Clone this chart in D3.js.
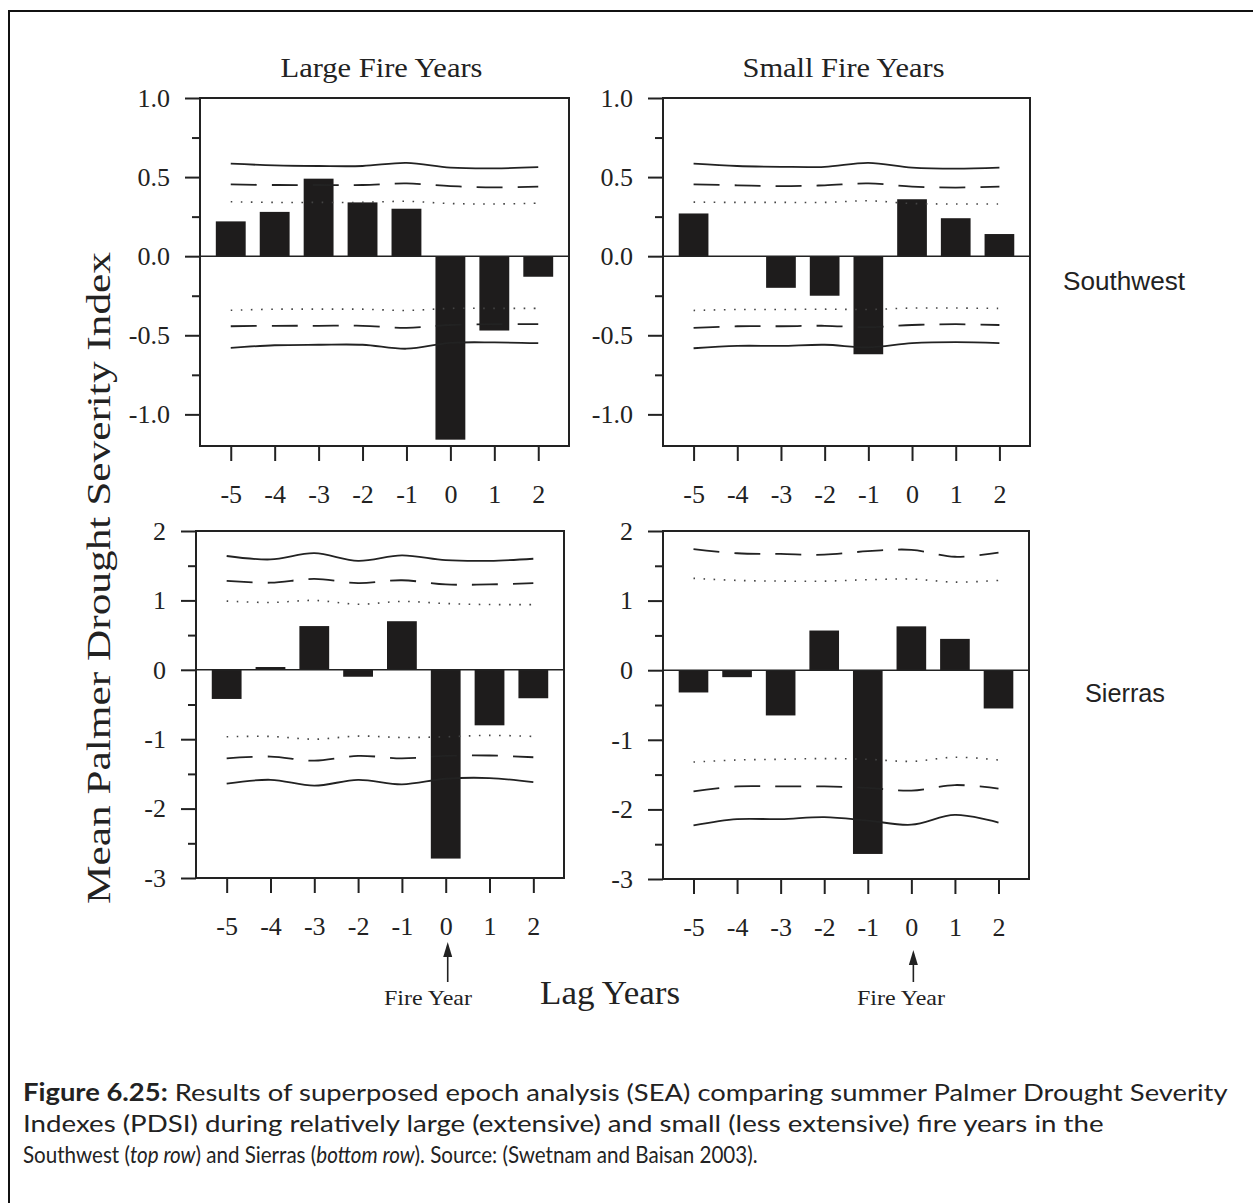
<!DOCTYPE html>
<html lang="en">
<head>
<meta charset="UTF-8">
<title>Superposed epoch analysis - PDSI</title>
<script src="https://d3js.org/d3.v7.min.js"></script>
<style>
  body { margin: 0; background: #fff; }
  svg text { fill: #222; }
</style>
</head>
<body>
<div id="chart"></div>
<script>
// lag years shared by all four panels
const lags = [-5, -4, -3, -2, -1, 0, 1, 2];

// Southwest, large fire years
const swLargeMean = [0.22, 0.28, 0.49, 0.34, 0.30, -1.16, -0.47, -0.13];
const swLargeUp99 = [0.585, 0.574, 0.57, 0.57, 0.59, 0.56, 0.555, 0.563];
const swLargeUp95 = [0.454, 0.45, 0.45, 0.45, 0.46, 0.443, 0.435, 0.44];
const swLargeUp90 = [0.344, 0.34, 0.34, 0.34, 0.347, 0.333, 0.33, 0.335];
const swLargeLo90 = [-0.342, -0.335, -0.335, -0.335, -0.343, -0.33, -0.33, -0.33];
const swLargeLo95 = [-0.443, -0.44, -0.44, -0.44, -0.453, -0.435, -0.43, -0.43];
const swLargeLo99 = [-0.58, -0.563, -0.56, -0.56, -0.585, -0.548, -0.545, -0.55];

// Southwest, small fire years
const swSmallMean = [0.27, 0, -0.20, -0.25, -0.62, 0.36, 0.24, 0.14];
const swSmallUp99 = [0.585, 0.57, 0.565, 0.565, 0.59, 0.56, 0.553, 0.56];
const swSmallUp95 = [0.454, 0.448, 0.443, 0.448, 0.46, 0.44, 0.434, 0.44];
const swSmallUp90 = [0.342, 0.34, 0.34, 0.34, 0.35, 0.333, 0.33, 0.33];
const swSmallLo90 = [-0.343, -0.337, -0.337, -0.335, -0.337, -0.328, -0.328, -0.33];
const swSmallLo95 = [-0.453, -0.443, -0.443, -0.44, -0.449, -0.435, -0.43, -0.435];
const swSmallLo99 = [-0.582, -0.567, -0.567, -0.56, -0.576, -0.55, -0.543, -0.55];

// Sierras, large fire years
const siLargeMean = [-0.42, 0.04, 0.63, -0.10, 0.70, -2.72, -0.80, -0.41];
const siLargeUp99 = [1.64, 1.59, 1.68, 1.57, 1.65, 1.58, 1.57, 1.60];
const siLargeUp95 = [1.28, 1.255, 1.31, 1.25, 1.29, 1.23, 1.23, 1.25];
const siLargeUp90 = [0.99, 0.97, 1.0, 0.945, 0.985, 0.955, 0.94, 0.94];
const siLargeLo90 = [-0.965, -0.96, -1.0, -0.955, -0.975, -0.965, -0.945, -0.96];
const siLargeLo95 = [-1.275, -1.25, -1.31, -1.24, -1.275, -1.24, -1.235, -1.26];
const siLargeLo99 = [-1.64, -1.585, -1.67, -1.585, -1.65, -1.57, -1.56, -1.62];

// Sierras, small fire years (upper 99% band lies above the plot)
const siSmallMean = [-0.32, -0.10, -0.65, 0.57, -2.64, 0.63, 0.45, -0.55];
const siSmallUp95 = [1.74, 1.68, 1.67, 1.66, 1.71, 1.73, 1.63, 1.69];
const siSmallUp90 = [1.32, 1.29, 1.28, 1.28, 1.30, 1.31, 1.265, 1.29];
const siSmallLo90 = [-1.32, -1.29, -1.28, -1.27, -1.28, -1.31, -1.25, -1.29];
const siSmallLo95 = [-1.74, -1.67, -1.67, -1.67, -1.69, -1.73, -1.65, -1.70];
const siSmallLo99 = [-2.23, -2.14, -2.14, -2.11, -2.16, -2.22, -2.08, -2.19];

const topTicks = [-1, -0.5, 0, 0.5, 1];
const topMinor = [-0.75, -0.25, 0.25, 0.75];
const botTicks = [-3, -2, -1, 0, 1, 2];
const botMinor = [-2.5, -1.5, -0.5, 0.5, 1.5];

const W = 1253, H = 1203;
const serif = "'Liberation Serif', 'Times New Roman', serif";
const ink = "#222";

const svg = d3.select("#chart").append("svg")
    .attr("width", W).attr("height", H);

// outer frame (runs off the right and bottom edges)
svg.append("rect")
    .attr("x", 9).attr("y", 11)
    .attr("width", 1260).attr("height", 1220)
    .attr("fill", "none").attr("stroke", "#111").attr("stroke-width", 2);

const panels = [
    {left: 200, top: 98, w: 369, h: 348, dom: [-1.2, 1.0], ticks: topTicks, minor: topMinor, fmt: d => d.toFixed(1),
     mean: swLargeMean, bands: [swLargeUp99, swLargeUp95, swLargeUp90, swLargeLo90, swLargeLo95, swLargeLo99],
     title: "Large Fire Years"},
    {left: 663, top: 98, w: 367, h: 348, dom: [-1.2, 1.0], ticks: topTicks, minor: topMinor, fmt: d => d.toFixed(1),
     mean: swSmallMean, bands: [swSmallUp99, swSmallUp95, swSmallUp90, swSmallLo90, swSmallLo95, swSmallLo99],
     title: "Small Fire Years"},
    {left: 196, top: 531, w: 368, h: 347, dom: [-3, 2], ticks: botTicks, minor: botMinor, fmt: d => String(d),
     mean: siLargeMean, bands: [siLargeUp99, siLargeUp95, siLargeUp90, siLargeLo90, siLargeLo95, siLargeLo99],
     arrowTip: 942, fireX: 428},
    {left: 663, top: 531, w: 366, h: 348, dom: [-3, 2], ticks: botTicks, minor: botMinor, fmt: d => String(d),
     mean: siSmallMean, bands: [null, siSmallUp95, siSmallUp90, siSmallLo90, siSmallLo95, siSmallLo99],
     arrowTip: 950, fireX: 901}
];

// solid = 99%, dashed = 95%, dotted = 90%
const bandStyle = [
    {dash: null, width: 1.8, color: "#222"},
    {dash: "26,15", width: 1.8, color: "#222"},
    {dash: "1.6,8.5", width: 1.6, color: "#444"},
    {dash: "1.6,8.5", width: 1.6, color: "#444"},
    {dash: "26,15", width: 1.8, color: "#222"},
    {dash: null, width: 1.8, color: "#222"}
];

panels.forEach(p => {
    const g = svg.append("g").attr("transform", `translate(${p.left},${p.top})`);
    const x = d3.scaleLinear().domain([-5.7, 2.7]).range([0, p.w]);
    const y = d3.scaleLinear().domain(p.dom).range([p.h, 0]);

    // bars
    g.selectAll("rect.bar")
        .data(lags.map((l, i) => ({lag: l, v: p.mean[i]})))
        .join("rect")
        .attr("class", "bar")
        .attr("x", d => x(d.lag - 0.34))
        .attr("width", d => x(d.lag + 0.34) - x(d.lag - 0.34))
        .attr("y", d => y(Math.max(0, d.v)))
        .attr("height", d => Math.abs(y(d.v) - y(0)))
        .attr("fill", "#1e1c1c");

    // confidence bands
    const line = d3.line()
        .x(d => x(d.lag)).y(d => y(d.v))
        .curve(d3.curveCatmullRom.alpha(0.5));
    p.bands.forEach((vals, k) => {
        if (!vals) return;
        const st = bandStyle[k];
        g.append("path")
            .datum(lags.map((l, i) => ({lag: l, v: vals[i]})))
            .attr("d", line)
            .attr("fill", "none")
            .attr("stroke", st.color)
            .attr("stroke-width", st.width)
            .attr("stroke-dasharray", st.dash);
    });

    // zero line
    g.append("line")
        .attr("x1", 0).attr("x2", p.w)
        .attr("y1", y(0)).attr("y2", y(0))
        .attr("stroke", ink).attr("stroke-width", 1.6);

    // frame
    g.append("rect")
        .attr("width", p.w).attr("height", p.h)
        .attr("fill", "none").attr("stroke", ink).attr("stroke-width", 2);

    // y axis, major + minor ticks
    g.append("g")
        .call(d3.axisLeft(y).tickValues(p.ticks).tickSize(15).tickPadding(15).tickFormat(p.fmt));
    g.append("g")
        .call(d3.axisLeft(y).tickValues(p.minor).tickSize(8).tickFormat(""));

    // x axis
    g.append("g")
        .attr("transform", `translate(0,${p.h})`)
        .call(d3.axisBottom(x).tickValues(lags).tickSize(15).tickPadding(24).tickFormat(d => String(d)));

    g.selectAll(".domain").remove();
    g.selectAll(".tick line").attr("stroke", ink).attr("stroke-width", 2);
    g.selectAll(".tick text")
        .attr("font-family", serif).attr("font-size", 26).attr("fill", ink);

    if (p.title) {
        g.append("text")
            .attr("x", p.w / 2 - 3).attr("y", -21)
            .attr("text-anchor", "middle")
            .attr("font-family", serif).attr("font-size", 28)
            .attr("textLength", 202).attr("lengthAdjust", "spacingAndGlyphs")
            .text(p.title);
    }

    if (p.arrowTip) {
        const ax = p.left + x(0) + 2;
        svg.append("line")
            .attr("x1", ax).attr("x2", ax)
            .attr("y1", p.arrowTip + 8).attr("y2", 982)
            .attr("stroke", ink).attr("stroke-width", 1.6);
        svg.append("path")
            .attr("d", `M${ax},${p.arrowTip} L${ax - 4.5},${p.arrowTip + 15} L${ax + 4.5},${p.arrowTip + 15} Z`)
            .attr("fill", ink);
        svg.append("text")
            .attr("x", p.fireX).attr("y", 1005)
            .attr("text-anchor", "middle")
            .attr("font-family", serif).attr("font-size", 22)
            .attr("textLength", 88).attr("lengthAdjust", "spacingAndGlyphs")
            .text("Fire Year");
    }
});

// shared axis titles
svg.append("text")
    .attr("transform", "translate(110,578) rotate(-90)")
    .attr("text-anchor", "middle")
    .attr("font-family", serif).attr("font-size", 34)
    .attr("textLength", 652).attr("lengthAdjust", "spacingAndGlyphs")
    .text("Mean Palmer Drought Severity Index");

svg.append("text")
    .attr("x", 610).attr("y", 1004)
    .attr("text-anchor", "middle")
    .attr("font-family", serif).attr("font-size", 34)
    .attr("textLength", 140).attr("lengthAdjust", "spacingAndGlyphs")
    .text("Lag Years");

// row labels
const sans = "'Liberation Sans', Arial, sans-serif";
svg.append("text").attr("x", 1124).attr("y", 290)
    .attr("text-anchor", "middle").attr("font-family", sans).attr("font-size", 25)
    .attr("textLength", 122).attr("lengthAdjust", "spacingAndGlyphs")
    .text("Southwest");
svg.append("text").attr("x", 1125).attr("y", 702)
    .attr("text-anchor", "middle").attr("font-family", sans).attr("font-size", 25)
    .attr("textLength", 80).attr("lengthAdjust", "spacingAndGlyphs")
    .text("Sierras");

// caption; each line squeezed horizontally to the width it has in the figure
const capFont = "Lato, 'Open Sans', sans-serif";
const cap = svg.append("g").attr("font-family", capFont).attr("font-size", 24).attr("fill", "#111");
const capY = [1101, 1132, 1163];
const capWidths = [1205, 1081, 735];

const l1 = cap.append("text");
l1.append("tspan").attr("font-weight", "bold").text("Figure 6.25:");
l1.append("tspan").text(" Results of superposed epoch analysis (SEA) comparing summer Palmer Drought Severity");

const l2 = cap.append("text")
    .text("Indexes (PDSI) during relatively large (extensive) and small (less extensive) fire years in the");

const l3 = cap.append("text");
l3.append("tspan").text("Southwest (");
l3.append("tspan").attr("font-style", "italic").text("top row");
l3.append("tspan").text(") and Sierras (");
l3.append("tspan").attr("font-style", "italic").text("bottom row");
l3.append("tspan").text("). Source: (Swetnam and Baisan 2003).");

[l1, l2, l3].forEach((t, i) => {
    const sx = capWidths[i] / t.node().getComputedTextLength();
    t.attr("transform", `translate(23,${capY[i]}) scale(${sx},1)`);
});
</script>
</body>
</html>
